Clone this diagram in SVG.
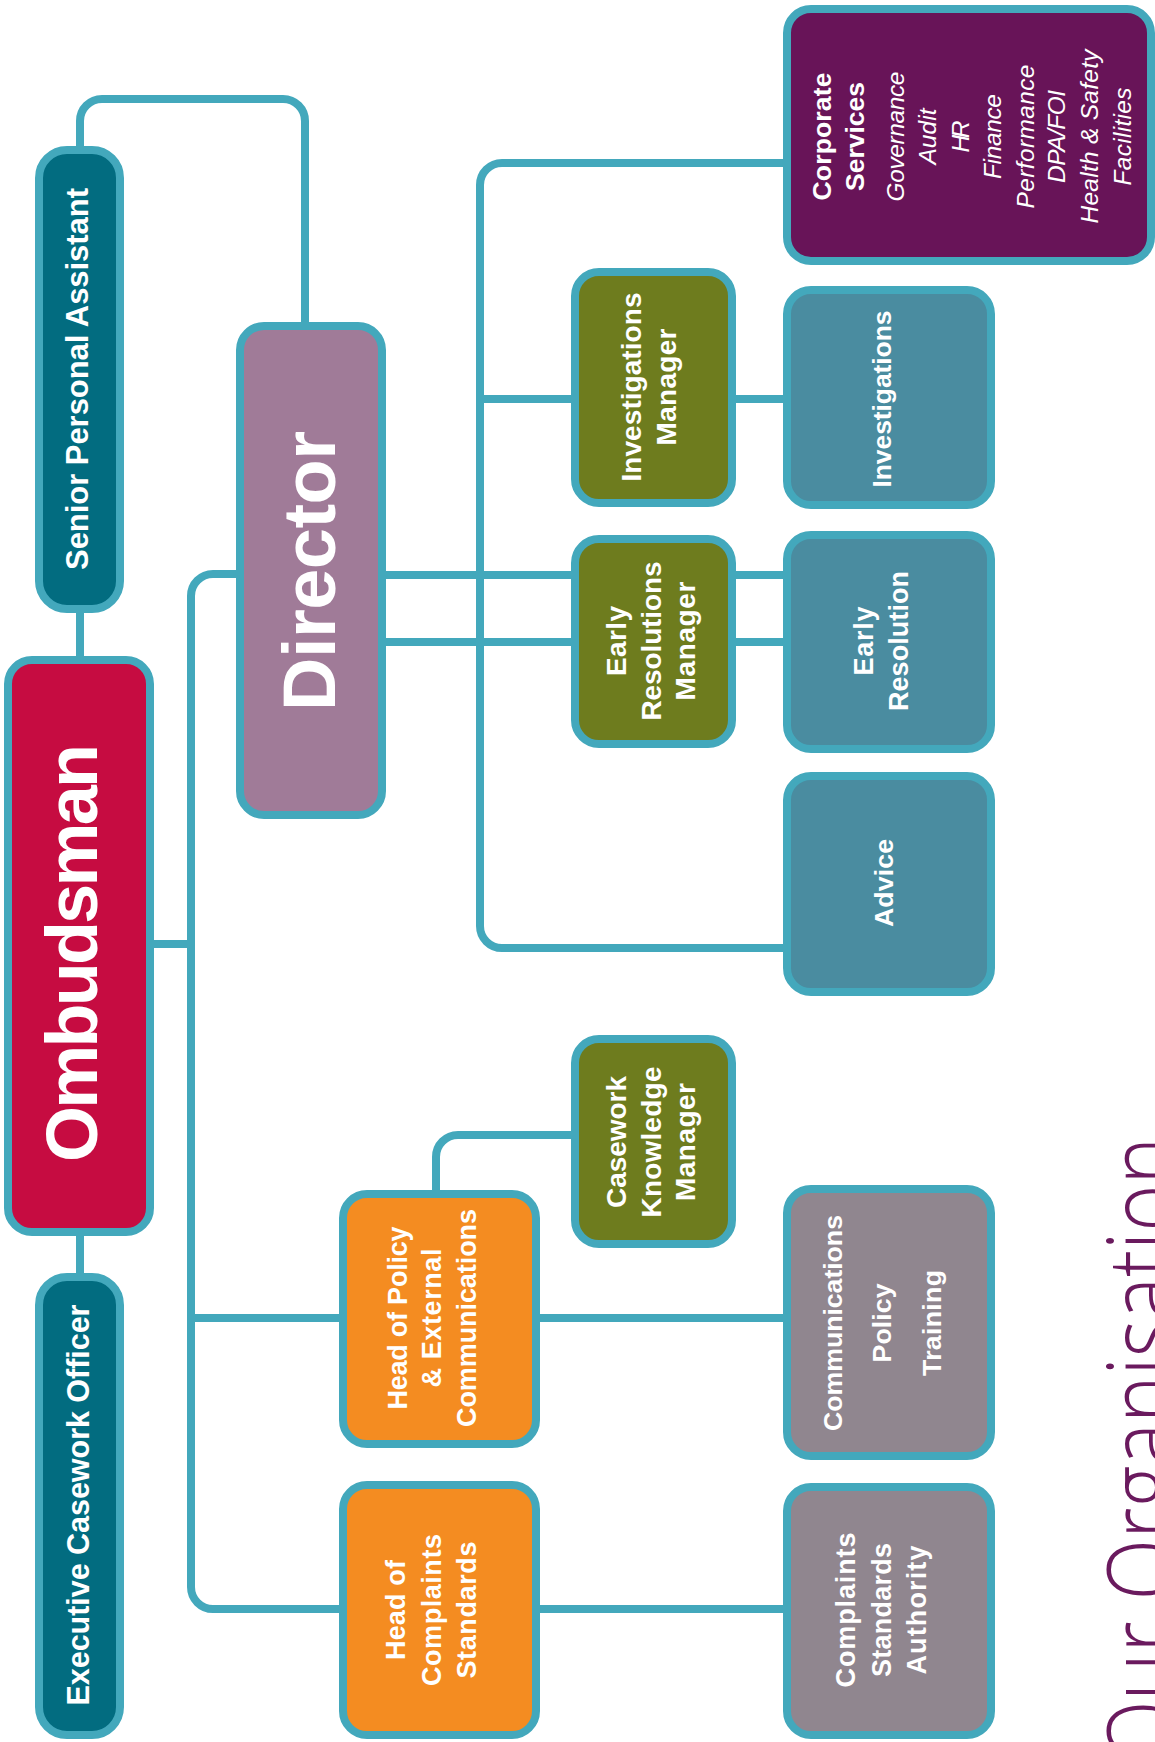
<svg xmlns="http://www.w3.org/2000/svg" width="1155" height="1742" viewBox="0 0 1155 1742">
<style>
.box{stroke:#43a8bc;stroke-width:8}
.c{fill:none;stroke:#43a8bc;stroke-width:8}
.t{font-family:"Liberation Sans",Arial,sans-serif;font-weight:bold;fill:#ffffff;text-anchor:middle}
.it{font-family:"Liberation Sans",Arial,sans-serif;font-style:italic;fill:#ffffff;text-anchor:middle;font-size:24.5px}
.teal{fill:#026c80}.olive{fill:#6e7c1e}.orange{fill:#f48c21}.blue{fill:#4a8ca0}.grey{fill:#90868f}
</style>
<rect width="1155" height="1742" fill="#ffffff"/>
<g id="connectors">
<path class="c" d="M80,150 V121 A22,22 0 0 1 102,99 H283 A22,22 0 0 1 305,121 V326"/>
<path class="c" d="M80,609 V660"/>
<path class="c" d="M80,1232 V1277"/>
<path class="c" d="M240,574 H213 A22,22 0 0 0 191,596 V1587 A22,22 0 0 0 213,1609 H343"/>
<path class="c" d="M150,944 H191"/>
<path class="c" d="M191,1318 H343"/>
<path class="c" d="M536,1318 H787"/>
<path class="c" d="M536,1609 H787"/>
<path class="c" d="M436,1194 V1157 A22,22 0 0 1 458,1135 H575"/>
<path class="c" d="M382,575 H575 M382,642 H575"/>
<path class="c" d="M732,575 H787 M732,642 H787"/>
<path class="c" d="M787,163 H502 A22,22 0 0 0 480,185 V926 A22,22 0 0 0 502,948 H787"/>
<path class="c" d="M480,399 H575"/>
<path class="c" d="M732,399 H787"/>
</g>
<g id="senior-pa">
<rect class="box teal" x="39" y="150" width="81" height="459" rx="28"/>
<g transform="translate(0,379) rotate(-90)"><text class="t" x="0" y="88" font-size="31" textLength="382">Senior Personal Assistant</text></g>
</g>
<g id="ombudsman">
<rect class="box" fill="#c60c41" x="8" y="660" width="142" height="572" rx="24"/>
<g transform="translate(0,953) rotate(-90)"><text class="t" x="0" y="97" font-size="72" textLength="418">Ombudsman</text></g>
</g>
<g id="exec-caseworker">
<rect class="box teal" x="39" y="1277" width="81" height="458" rx="28"/>
<g transform="translate(0,1505) rotate(-90)"><text class="t" x="0" y="89" font-size="30.5" textLength="401">Executive Casework Officer</text></g>
</g>
<g id="director">
<rect class="box" fill="#a07b98" x="240" y="326" width="142" height="489" rx="24"/>
<g transform="translate(0,571) rotate(-90)"><text class="t" x="0" y="335" font-size="74" textLength="280">Director</text></g>
</g>
<g id="head-policy">
<rect class="box orange" x="343" y="1194" width="193" height="250" rx="24"/>
<g transform="translate(0,1318) rotate(-90)">
<text class="t" x="0" y="407" font-size="27" textLength="183">Head of Policy</text>
<text class="t" x="0" y="441" font-size="27" textLength="139">&amp; External</text>
<text class="t" x="0" y="476" font-size="27" textLength="218">Communications</text>
</g>
</g>
<g id="head-complaints">
<rect class="box orange" x="343" y="1485" width="193" height="250" rx="24"/>
<g transform="translate(0,1610) rotate(-90)">
<text class="t" x="0" y="405" font-size="27" textLength="100">Head of</text>
<text class="t" x="0" y="441" font-size="27" textLength="152">Complaints</text>
<text class="t" x="0" y="476" font-size="27" textLength="137">Standards</text>
</g>
</g>
<g id="investigations-manager">
<rect class="box olive" x="575" y="272" width="157" height="231" rx="24"/>
<g transform="translate(0,387) rotate(-90)">
<text class="t" x="0" y="641" font-size="28" textLength="189">Investigations</text>
<text class="t" x="0" y="676" font-size="28" textLength="117">Manager</text>
</g>
</g>
<g id="early-resolutions-manager">
<rect class="box olive" x="575" y="539" width="157" height="205" rx="24"/>
<g transform="translate(0,641) rotate(-90)">
<text class="t" x="0" y="626" font-size="28" textLength="70">Early</text>
<text class="t" x="0" y="661" font-size="28" textLength="159">Resolutions</text>
<text class="t" x="0" y="695" font-size="28" textLength="119">Manager</text>
</g>
</g>
<g id="casework-knowledge-manager">
<rect class="box olive" x="575" y="1039" width="157" height="205" rx="24"/>
<g transform="translate(0,1142) rotate(-90)">
<text class="t" x="0" y="626" font-size="28" textLength="132">Casework</text>
<text class="t" x="0" y="661" font-size="28" textLength="151">Knowledge</text>
<text class="t" x="0" y="695" font-size="28" textLength="118">Manager</text>
</g>
</g>
<g id="corporate-services">
<rect class="box" fill="#681458" x="787" y="9" width="364" height="252" rx="24"/>
<g transform="translate(0,136.5) rotate(-90)">
<text class="t" x="0" y="831" font-size="26.5" textLength="128">Corporate</text>
<text class="t" x="0" y="864" font-size="26.5" textLength="109">Services</text>
<text class="it" x="0" y="904" textLength="130">Governance</text>
<text class="it" x="0" y="936" textLength="56">Audit</text>
<text class="it" x="0" y="969" textLength="32">HR</text>
<text class="it" x="0" y="1001" textLength="85">Finance</text>
<text class="it" x="0" y="1034" textLength="144">Performance</text>
<text class="it" x="0" y="1065" textLength="93">DPA/FOI</text>
<text class="it" x="0" y="1098" textLength="174">Health &amp; Safety</text>
<text class="it" x="0" y="1131" textLength="98">Facilities</text>
</g>
</g>
<g id="investigations">
<rect class="box blue" x="787" y="290" width="204" height="215" rx="24"/>
<g transform="translate(0,399) rotate(-90)"><text class="t" x="0" y="891" font-size="26.5" textLength="177">Investigations</text></g>
</g>
<g id="early-resolution">
<rect class="box blue" x="787" y="535" width="204" height="214" rx="24"/>
<g transform="translate(0,641) rotate(-90)">
<text class="t" x="0" y="873" font-size="27" textLength="69">Early</text>
<text class="t" x="0" y="908" font-size="27" textLength="140">Resolution</text>
</g>
</g>
<g id="advice">
<rect class="box blue" x="787" y="776" width="204" height="216" rx="24"/>
<g transform="translate(0,883) rotate(-90)"><text class="t" x="0" y="893" font-size="26.7" textLength="88">Advice</text></g>
</g>
<g id="communications-policy-training">
<rect class="box grey" x="787" y="1189" width="204" height="267" rx="24"/>
<g transform="translate(0,1323) rotate(-90)">
<text class="t" x="0" y="842" font-size="26.7" textLength="216">Communications</text>
<text class="t" x="0" y="891" font-size="26.7" textLength="79">Policy</text>
<text class="t" x="0" y="941" font-size="26.7" textLength="106">Training</text>
</g>
</g>
<g id="complaints-standards-authority">
<rect class="box grey" x="787" y="1487" width="204" height="248" rx="24"/>
<g transform="translate(0,1610) rotate(-90)">
<text class="t" x="0" y="855" font-size="27" textLength="155">Complaints</text>
<text class="t" x="0" y="891" font-size="27" textLength="134">Standards</text>
<text class="t" x="0" y="926" font-size="27" textLength="129">Authority</text>
</g>
</g>
<g id="title">
<g transform="translate(0,1137) rotate(-90)"><text x="-625" y="1179" font-family="'Open Sans',Lato,'Liberation Sans',sans-serif" font-weight="300" font-size="100" fill="#6a1a5e" textLength="625" lengthAdjust="spacingAndGlyphs">Our Organisation</text></g>
</g>
</svg>
